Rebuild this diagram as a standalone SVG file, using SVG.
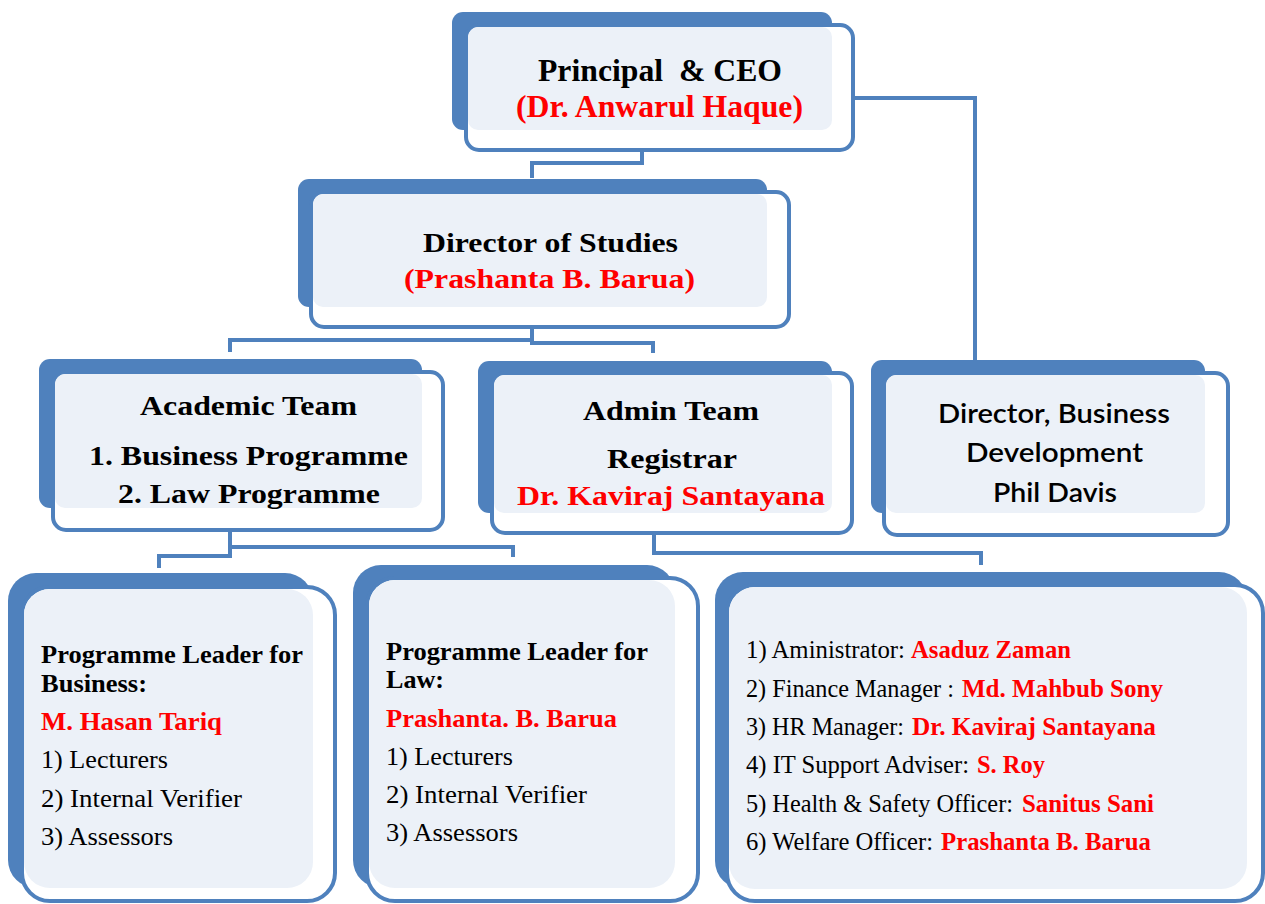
<svg xmlns="http://www.w3.org/2000/svg" width="1265" height="904" viewBox="0 0 1265 904">
<style>
.back{fill:#4F81BD;}
.front{fill:#FFFFFF;stroke:#4F81BD;stroke-width:4;}
.light{fill:#ECF1F8;}
.conn{fill:none;stroke:#4F81BD;stroke-width:4;stroke-linejoin:miter;}
.t{font-family:'Liberation Serif',Tinos,'Times New Roman',serif;font-weight:700;fill:#000;}
.r{font-family:'Liberation Serif',Tinos,'Times New Roman',serif;font-weight:400;fill:#000;}
.red{fill:#FF0000;}
.s{font-family:Lato,'Open Sans','Liberation Sans',sans-serif;font-weight:600;fill:#000;}
.big{font-size:31px;}
.mid{font-size:28px;}
.sm{font-size:25px;}
</style>
<rect width="1265" height="904" fill="#FFFFFF"/>
<g id="connectors">
<path class="conn" d="M642,150 V163 H532 V178"/>
<path class="conn" d="M851,98 H975 V360"/>
<path class="conn" d="M230,352 V340 H532 M532,327 V343 H653 V353"/>
<path class="conn" d="M230,530 V556 H159 V568 M230,547 H513 V557"/>
<path class="conn" d="M654,533 V553 H981 V565"/>
</g>
<g id="principal">
<rect class="back" x="452" y="12" width="380" height="118" rx="11"/>
<rect class="front" x="466" y="25" width="387" height="125" rx="13"/>
<rect class="light" x="468" y="27" width="364" height="103" rx="10"/>
<text class="t big" x="538" y="80.5" textLength="244" lengthAdjust="spacingAndGlyphs" xml:space="preserve">Principal  &amp; CEO</text>
<text class="t big red" x="516" y="117" textLength="287" lengthAdjust="spacingAndGlyphs">(Dr. Anwarul Haque)</text>
</g>
<g id="director-studies">
<rect class="back" x="298" y="179" width="469" height="128" rx="11"/>
<rect class="front" x="311" y="192" width="478" height="135" rx="13"/>
<rect class="light" x="313" y="194" width="454" height="113" rx="10"/>
<text class="t mid" x="423" y="252" textLength="255" lengthAdjust="spacingAndGlyphs">Director of Studies</text>
<text class="t mid red" x="404" y="288" textLength="291" lengthAdjust="spacingAndGlyphs">(Prashanta B. Barua)</text>
</g>
<g id="academic-team">
<rect class="back" x="39" y="359" width="383" height="149" rx="11"/>
<rect class="front" x="53" y="372" width="390" height="158" rx="13"/>
<rect class="light" x="55" y="374" width="367" height="134" rx="10"/>
<text class="t mid" x="140" y="415" textLength="217" lengthAdjust="spacingAndGlyphs">Academic Team</text>
<text class="t mid" x="89" y="465" textLength="319" lengthAdjust="spacingAndGlyphs">1. Business Programme</text>
<text class="t mid" x="118" y="503" textLength="262" lengthAdjust="spacingAndGlyphs">2. Law Programme</text>
</g>
<g id="admin-team">
<rect class="back" x="478" y="361" width="354" height="152" rx="11"/>
<rect class="front" x="492" y="373" width="360" height="160" rx="13"/>
<rect class="light" x="494" y="375" width="338" height="138" rx="10"/>
<text class="t mid" x="583" y="420" textLength="176" lengthAdjust="spacingAndGlyphs">Admin Team</text>
<text class="t mid" x="607" y="468" textLength="130" lengthAdjust="spacingAndGlyphs">Registrar</text>
<text class="t mid red" x="517" y="505" textLength="308" lengthAdjust="spacingAndGlyphs">Dr. Kaviraj Santayana</text>
</g>
<g id="business-development">
<rect class="back" x="871" y="360" width="334" height="153" rx="11"/>
<rect class="front" x="884" y="373" width="344" height="162" rx="13"/>
<rect class="light" x="886" y="375" width="319" height="138" rx="10"/>
<text class="s" font-size="27" x="938" y="423" textLength="232" lengthAdjust="spacingAndGlyphs">Director, Business</text>
<text class="s" font-size="27" x="966" y="462" textLength="177" lengthAdjust="spacingAndGlyphs">Development</text>
<text class="s red" font-size="27" x="993" y="502" textLength="124" lengthAdjust="spacingAndGlyphs">Phil Davis</text>
</g>
<g id="pl-business">
<rect class="back" x="8" y="573" width="305" height="315" rx="28"/>
<rect class="front" x="22" y="587" width="313" height="314" rx="28"/>
<rect class="light" x="24" y="589" width="289" height="299" rx="26"/>
<text class="t sm" x="41" y="663" textLength="262" lengthAdjust="spacingAndGlyphs">Programme Leader for</text>
<text class="t sm" x="41" y="692" textLength="106" lengthAdjust="spacingAndGlyphs">Business:</text>
<text class="t sm red" x="41" y="730" textLength="181" lengthAdjust="spacingAndGlyphs">M. Hasan Tariq</text>
<text class="r sm" x="41" y="768" textLength="127" lengthAdjust="spacingAndGlyphs">1) Lecturers</text>
<text class="r sm" x="41" y="807" textLength="201" lengthAdjust="spacingAndGlyphs">2) Internal Verifier</text>
<text class="r sm" x="41" y="845" textLength="132" lengthAdjust="spacingAndGlyphs">3) Assessors</text>
</g>
<g id="pl-law">
<rect class="back" x="353" y="565" width="322" height="323" rx="28"/>
<rect class="front" x="367" y="578" width="331" height="323" rx="28"/>
<rect class="light" x="369" y="580" width="306" height="308" rx="26"/>
<text class="t sm" x="386" y="660" textLength="262" lengthAdjust="spacingAndGlyphs">Programme Leader for</text>
<text class="t sm" x="386" y="688" textLength="58" lengthAdjust="spacingAndGlyphs">Law:</text>
<text class="t sm red" x="386" y="727" textLength="231" lengthAdjust="spacingAndGlyphs">Prashanta. B. Barua</text>
<text class="r sm" x="386" y="765" textLength="127" lengthAdjust="spacingAndGlyphs">1) Lecturers</text>
<text class="r sm" x="386" y="803" textLength="201" lengthAdjust="spacingAndGlyphs">2) Internal Verifier</text>
<text class="r sm" x="386" y="841" textLength="132" lengthAdjust="spacingAndGlyphs">3) Assessors</text>
</g>
<g id="admin-staff">
<rect class="back" x="715" y="572" width="532" height="317" rx="28"/>
<rect class="front" x="727" y="585" width="536" height="316" rx="28"/>
<rect class="light" x="729" y="587" width="518" height="302" rx="26"/>
<text class="r sm" x="746" y="658" textLength="159" lengthAdjust="spacingAndGlyphs">1) Aministrator:</text>
<text class="t sm red" x="911" y="658" textLength="160" lengthAdjust="spacingAndGlyphs">Asaduz Zaman</text>
<text class="r sm" x="746" y="697" textLength="208" lengthAdjust="spacingAndGlyphs">2) Finance Manager :</text>
<text class="t sm red" x="962" y="697" textLength="201" lengthAdjust="spacingAndGlyphs">Md. Mahbub Sony</text>
<text class="r sm" x="746" y="735" textLength="158" lengthAdjust="spacingAndGlyphs">3) HR Manager:</text>
<text class="t sm red" x="912" y="735" textLength="244" lengthAdjust="spacingAndGlyphs">Dr. Kaviraj Santayana</text>
<text class="r sm" x="746" y="773" textLength="223" lengthAdjust="spacingAndGlyphs">4) IT Support Adviser:</text>
<text class="t sm red" x="977" y="773" textLength="68" lengthAdjust="spacingAndGlyphs">S. Roy</text>
<text class="r sm" x="746" y="812" textLength="267" lengthAdjust="spacingAndGlyphs">5) Health &amp; Safety Officer:</text>
<text class="t sm red" x="1022" y="812" textLength="132" lengthAdjust="spacingAndGlyphs">Sanitus Sani</text>
<text class="r sm" x="746" y="850" textLength="187" lengthAdjust="spacingAndGlyphs">6) Welfare Officer:</text>
<text class="t sm red" x="941" y="850" textLength="210" lengthAdjust="spacingAndGlyphs">Prashanta B. Barua</text>
</g>
</svg>
